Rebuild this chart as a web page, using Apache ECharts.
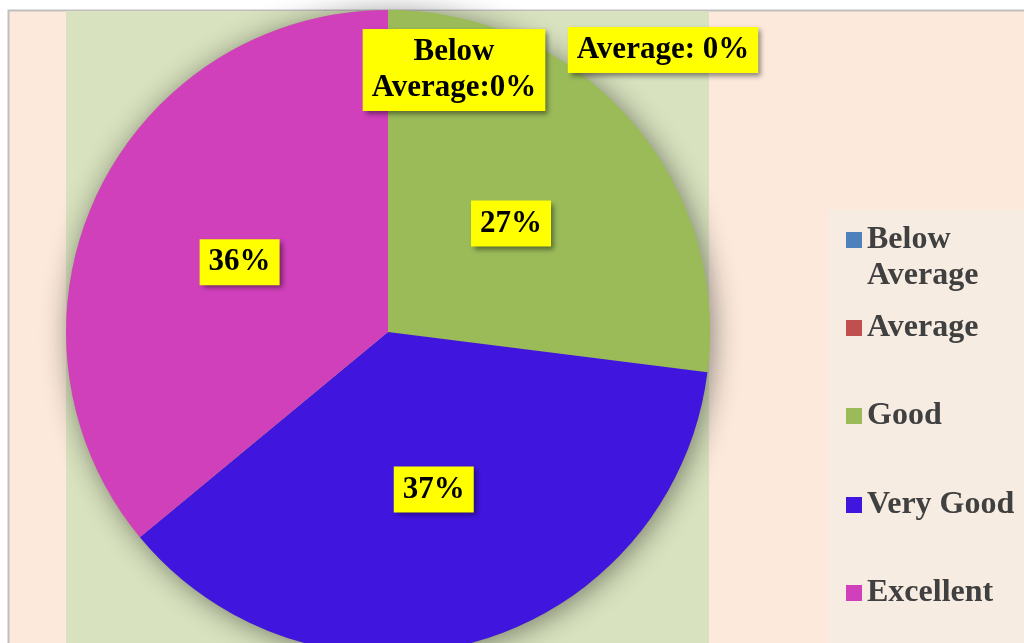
<!DOCTYPE html>
<html><head><meta charset="utf-8">
<script src="https://cdn.jsdelivr.net/npm/echarts@6/dist/echarts.min.js"></script>
<style>html,body{margin:0;padding:0;background:#fff}#c{width:1024px;height:643px}</style>
</head><body><div id="c"></div>
<script>
const categories = ['Below Average', 'Average', 'Good', 'Very Good', 'Excellent'];
const values = [0, 0, 27, 37, 36];
const colors = ['#4F81BD', '#C0504D', '#9BBB59', '#4015DD', '#D040BB'];
const labelTexts = ['Below\nAverage:0%', 'Average: 0%', '27%', '37%', '36%'];

const labelOffsets = [[66, -98], [275, -118], [0, 0], [0, 0], [0, 0]];
const legendTops = [186, 310, 398, 487, 575];

const chart = echarts.init(document.getElementById('c'), null, {renderer: 'canvas'});
const serif = '"Liberation Serif", "Times New Roman", serif';

const labelBase = {
  show: true, position: 'inside', fontFamily: serif, fontWeight: 'bold', fontSize: 31,
  color: '#000', backgroundColor: '#FFFF00', padding: [5, 9], lineHeight: 36,
  shadowColor: 'rgba(0,0,0,0.45)', shadowBlur: 5, shadowOffsetX: 3, shadowOffsetY: 3
};

const legends = categories.map((n, i) => ({
  orient: 'vertical', left: 846, top: legendTops[i], padding: 0,
  itemWidth: 16, itemHeight: 16, icon: 'rect', selectedMode: false,
  data: [n],
  formatter: i === 0 ? ' \nBelow\nAverage' : '{name}',
  textStyle: {fontFamily: serif, fontWeight: 'bold', fontSize: 32, color: '#404040', lineHeight: 36}
}));

chart.setOption({
  animation: false,
  color: colors,
  graphic: [
    {type: 'rect', shape: {x: 8.5, y: 10.5, width: 1030, height: 650}, style: {fill: '#FCE9DB', stroke: '#BFBFBF', lineWidth: 2}, z: -10},
    {type: 'rect', shape: {x: 66, y: 11, width: 643, height: 640}, style: {fill: '#D8E2BE'}, z: -9},
    {type: 'rect', shape: {x: 828, y: 210, width: 200, height: 440}, style: {fill: '#F7ECE2'}, z: -9}
  ],
  legend: legends,
  series: [
    {
      type: 'pie', center: [388, 332], radius: 322, silent: true, z: 1,
      label: {show: false}, labelLine: {show: false},
      itemStyle: {color: '#9BBB59', shadowBlur: 28, shadowColor: 'rgba(0,0,0,0.45)', shadowOffsetX: 3, shadowOffsetY: 3},
      data: [{value: 1, name: '__bg'}]
    },
    {
      type: 'pie', center: [388, 332], radius: 322, z: 2,
      startAngle: 90, clockwise: true, avoidLabelOverlap: false, minAngle: 0,
      labelLine: {show: false},
      itemStyle: {borderWidth: 0},
      data: categories.map((n, i) => ({
        name: n, value: values[i],
        itemStyle: {color: colors[i]},
        label: Object.assign({}, labelBase, {formatter: labelTexts[i], offset: labelOffsets[i]})
      }))
    }
  ]
});
</script></body></html>
